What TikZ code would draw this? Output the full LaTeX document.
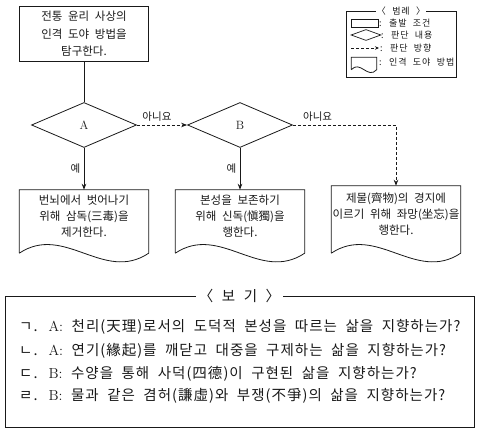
\documentclass[tikz,border=0pt]{standalone}
\usepackage{fontspec}
\usepackage{tikz}
\usetikzlibrary{arrows.meta,positioning,calc,shapes.geometric}
\newfontfamily\kr[WordSpace=2.2]{Noto Sans CJK KR}
\newfontfamily\krwide[WordSpace=2.2,LetterSpace=10]{Noto Sans CJK KR}
\newfontfamily\kritem[WordSpace=2,LetterSpace=7]{Noto Sans CJK KR}
\definecolor{ink}{RGB}{25,25,25}
% document symbol: straight top and sides, wavy bottom
\newcommand{\docwave}[4]{%
  \draw[docline] ($(#1.south west)+(0,#2)$) -- (#1.north west) -- (#1.north east)
    -- ($(#1.south east)+(0,#2)$)
    .. controls ($(#1.south east)+(-#4,#2+#3)$) and ($(#1.south west)+(#4,#2-#3)$)
    .. ($(#1.south west)+(0,#2)$);
}
\tikzset{
  startbox/.style={draw=ink,line width=0.8pt,align=center,minimum width=129,minimum height=55,
    inner sep=2pt,text=ink,font=\kr\fontsize{11.5}{17.5}\selectfont},
  decision/.style={diamond,draw=ink,line width=0.8pt,minimum width=105,minimum height=45,
    aspect=2.33,inner sep=0pt,text=ink,font=\fontsize{12}{14}\selectfont},
  doc/.style={align=center,minimum width=129,minimum height=53,inner sep=0pt,text=ink,
    font=\kr\fontsize{11.5}{16}\selectfont},
  docline/.style={draw=ink,line width=0.8pt},
  link/.style={draw=ink,line width=0.8pt},
  arrow/.style={-{Stealth[length=6pt,width=4.5pt]},line width=0.8pt,draw=ink},
  dasharrow/.style={arrow,dash pattern=on 3pt off 2pt},
  note/.style={text=ink,font=\kr\fontsize{10.5}{12}\selectfont},
  legnote/.style={text=ink,inner sep=1pt,font=\krwide\fontsize{9}{10}\selectfont},
  item/.style={text=ink,inner sep=0pt,font=\kritem\fontsize{14.5}{16}\selectfont}
}
\begin{document}
\begin{tikzpicture}[x=1pt,y=-1pt]
  \useasboundingbox (0,0) rectangle (480,433);

  % flow chart
  \node[startbox] (start) at (84,34) {전통 윤리 사상의\\인격 도야 방법을\\탐구한다.};
  \node[decision] (qa) at (84,125) {A};
  \node[decision] (qb) at (240,125) {B};
  \node[doc] (act1) at (84,216.5) {번뇌에서 벗어나기\\위해 삼독(三毒)을\\제거한다.};
  \node[doc] (act2) at (240,216.5) {본성을 보존하기\\위해 신독(愼獨)을\\행한다.};
  \node[doc,minimum height=57] (act3) at (396,214.5) {제물(齊物)의 경지에\\이르기 위해 좌망(坐忘)을\\행한다.};
  \docwave{act1}{10}{30}{45}
  \docwave{act2}{10}{30}{45}
  \docwave{act3}{10}{30}{45}

  \draw[link] (start) -- (qa);
  \draw[dasharrow] (qa) -- node[note,above,pos=0.4] {아니요} (qb);
  \draw[dasharrow] (qb.east) -| node[note,above,pos=0.12] {아니요} (act3.north);
  \draw[arrow] (qa) -- node[note,left] {예} (act1);
  \draw[arrow] (qb) -- node[note,left] {예} (act2);

  % legend
  \node[draw=ink,line width=0.8pt,minimum width=110,minimum height=66] (legend) at (401,44) {};
  \node[legnote,fill=white] (legtitle) at (legend.north) {〈 범례 〉};
  \node[draw=ink,line width=0.7pt,minimum width=27,minimum height=8,inner sep=0pt] (icrect) at (364.5,23) {};
  \node[diamond,draw=ink,line width=0.7pt,minimum width=30,minimum height=11,aspect=2.7,inner sep=0pt] (icdiam) at (366,35) {};
  \coordinate (icfrom) at (351,48);
  \coordinate (icto) at (379,48);
  \draw[dasharrow,-{Stealth[length=4pt,width=3.5pt]}] (icfrom) -- (icto);
  \node[minimum width=25,minimum height=9,inner sep=0pt] (icdoc) at (364,62) {};
  \docwave{icdoc}{3}{10}{9}
  \node[legnote,anchor=west] (lg1) at (378,23) {: 출발 조건};
  \node[legnote,anchor=west] (lg2) at (380,35) {: 판단 내용};
  \node[legnote,anchor=west] (lg3) at (379,48) {: 판단 방향};
  \node[legnote,anchor=west] (lg4) at (378,62) {: 인격 도야 방법};

  % <보기>
  \node[draw=ink,line width=0.8pt,minimum width=469,minimum height=131] (bogi) at (239.5,361.5) {};
  \node[item,fill=white,inner sep=3pt] (bogititle) at (bogi.north) {〈 보 기 〉};
  \node[item,anchor=west] (ga) at (19,327) {ㄱ. \textrm{A:} 천리(天理)로서의 도덕적 본성을 따르는 삶을 지향하는가?};
  \node[item,anchor=west] (na) at (19,351) {ㄴ. \textrm{A:} 연기(緣起)를 깨닫고 대중을 구제하는 삶을 지향하는가?};
  \node[item,anchor=west] (da) at (19,374) {ㄷ. \textrm{B:} 수양을 통해 사덕(四德)이 구현된 삶을 지향하는가?};
  \node[item,anchor=west] (ra) at (19,396) {ㄹ. \textrm{B:} 물과 같은 겸허(謙虛)와 부쟁(不爭)의 삶을 지향하는가?};
\end{tikzpicture}
\end{document}
